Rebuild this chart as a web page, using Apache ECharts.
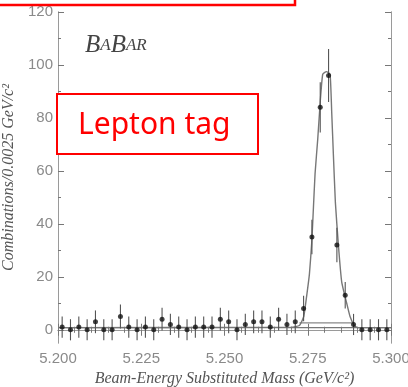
<!DOCTYPE html>
<html>
<head>
<meta charset="utf-8">
<script src="https://cdn.jsdelivr.net/npm/echarts@6/dist/echarts.min.js"></script>
<style>html,body{margin:0;padding:0;background:#fff}#c{width:408px;height:387px}</style>
</head>
<body>
<div id="c"></div>
<script>
// Bin centres (GeV/c^2), 0.0025 bins
var binCenters = [5.20125,5.20375,5.20625,5.20875,5.21125,5.21375,5.21625,5.21875,5.22125,5.22375,
  5.22625,5.22875,5.23125,5.23375,5.23625,5.23875,5.24125,5.24375,5.24625,5.24875,
  5.25125,5.25375,5.25625,5.25875,5.26125,5.26375,5.26625,5.26875,5.27125,5.27375,
  5.27625,5.27875,5.28125,5.28375,5.28625,5.28875,5.29125,5.29375,5.29625,5.29875];
var counts = [1,0,1,0,3,0,0,5,1,0,
  1,0,4,2,1,0,1,1,1,4,
  3,0,2,3,3,1,4,2,3,8,
  35,84,96,32,13,2,0,0,0,0];
var errors = [4,4,4,4,4.3,4,4,4.5,4,4,
  4,4,4.3,4,4,4,4,4,4,4.3,
  4.3,4,4,4.3,4.3,4,4.3,4,4.3,4.8,
  6.5,9.5,10,6.5,5,4,4,4,4,4];
// Fit curve
var fitX = [5.2000,5.2700,5.2725,5.2738,5.2747,5.2755,5.2762,5.2767,5.2772,5.2780,5.2788,5.2795,5.2806,5.2817,5.2822,5.2827,5.2833,5.2842,5.2852,5.2867,5.2877,5.2890,5.2900,5.3000];
var fitY = [0.8,1.0,1.6,5,13,21,33,46,59,72,87,96.5,97.5,96.5,82,66,48,32,18,10,5,1.6,0.8,0.8];
// Background components
var baseX = [5.200,5.300], baseY = [0.8,0.8];
var stepX = [5.2725,5.2890], stepY = [2.6,2.6];
// Tick values
var xTicks = ['5.200','5.225','5.250','5.275','5.300'];
var yMajor = [0,20,40,60,80,100,120];
var yMinor = [10,30,50,70,90,110];

var zip = function(a,b){return a.map(function(v,i){return [v,b[i]];});};
var ch = echarts.init(document.getElementById('c'));
var gray = '#8a8a8a';
var lblFont = 'Liberation Sans';
var yBase = {type:'value', min:-5, max:120, splitLine:{show:false}};
function yAx(pos, vals, len, labels, extra){
  return Object.assign({}, yBase, {position:pos,
    axisLine:{show:true, lineStyle:{color:'#9a9a9a', width:1}},
    axisTick:{show:true, inside:true, length:len, customValues:vals, lineStyle:{color:'#777'}},
    axisLabel:labels ? {show:true, customValues:yMajor, color:gray, fontSize:15, fontFamily:lblFont, margin:5} : {show:false}
  }, extra||{});
}
ch.setOption({
  animation:false,
  grid:{left:58, right:17, top:12, bottom:44, show:false, containLabel:false, outerBoundsMode:'none'},
  xAxis:[
    {type:'value', min:5.2, max:5.3, interval:0.025, position:'bottom',
     name:'Beam-Energy Substituted Mass (GeV/c\u00B2)', nameLocation:'middle', nameGap:27,
     nameTextStyle:{fontFamily:'Liberation Serif', fontStyle:'italic', fontSize:16, color:'#555'},
     axisLine:{lineStyle:{color:'#9a9a9a'}},
     axisTick:{inside:true, length:6, lineStyle:{color:'#777'}},
     minorTick:{show:true, splitNumber:5, length:3, lineStyle:{color:'#777'}},
     axisLabel:{color:gray, fontSize:15, fontFamily:lblFont, margin:8,
       formatter:function(v){var s=v.toFixed(3); return xTicks.indexOf(s)>=0?s:'';}},
     splitLine:{show:false}},
    {type:'value', min:5.2, max:5.3, interval:0.025, position:'top',
     axisLine:{lineStyle:{color:'#9a9a9a'}},
     axisTick:{inside:true, length:6, lineStyle:{color:'#777'}},
     minorTick:{show:true, splitNumber:5, length:3, lineStyle:{color:'#777'}},
     axisLabel:{show:false}, splitLine:{show:false}}
  ],
  yAxis:[
    yAx('left', yMajor, 6, true, {name:'Combinations/0.0025 GeV/c\u00B2', nameLocation:'middle', nameGap:37, nameRotate:90,
      nameTextStyle:{fontFamily:'Liberation Serif', fontStyle:'italic', fontSize:16, color:'#555'}}),
    yAx('left', yMinor, 3, false),
    yAx('right', yMajor, 6, false),
    yAx('right', yMinor, 3, false)
  ],
  series:[
    {type:'line', data:zip(baseX,baseY), showSymbol:false, lineStyle:{color:'#777', width:1.2}, z:2},
    {type:'line', data:zip(stepX,stepY), showSymbol:false, lineStyle:{color:'#888', width:1.2}, z:2},
    {type:'line', data:zip(fitX,fitY), showSymbol:false, smooth:0.15, lineStyle:{color:'#777', width:1.4}, z:3},
    {type:'custom', data:binCenters.map(function(x,i){return [x,counts[i],errors[i]];}),
     renderItem:function(params, api){
       var x=api.value(0), y=api.value(1), e=api.value(2);
       var t=api.coord([x,y+e]), b=api.coord([x,y-e]);
       return {type:'line', shape:{x1:t[0],y1:t[1],x2:b[0],y2:b[1]}, style:{stroke:'#555', lineWidth:1.1}};
     }, clip:true, z:4},
    {type:'scatter', data:zip(binCenters,counts), symbol:'circle', symbolSize:5,
     itemStyle:{color:'#111'}, z:5}
  ],
  graphic:[
    {type:'text', left:85, top:33, z:10, style:{
      text:'{B|B}{a|A}{B|B}{a|AR}', fill:'#444',
      rich:{B:{fontSize:25, fontFamily:'Liberation Serif', fontStyle:'italic', fill:'#444'},
            a:{fontSize:17, fontFamily:'Liberation Serif', fontStyle:'italic', fill:'#444'}}}},
    {type:'rect', z:20, shape:{x:-5, y:-60, width:300, height:65}, style:{fill:'none', stroke:'#ff0000', lineWidth:2.5}},
    {type:'rect', z:20, shape:{x:57, y:94, width:201, height:60}, style:{fill:'#fff', stroke:'#ff0000', lineWidth:2}},
    {type:'text', z:21, x:78, y:125, style:{text:'Lepton tag', fill:'#ff0000', fontSize:30, fontFamily:'Noto Sans', verticalAlign:'middle'}}
  ]
});
</script>
</body>
</html>
